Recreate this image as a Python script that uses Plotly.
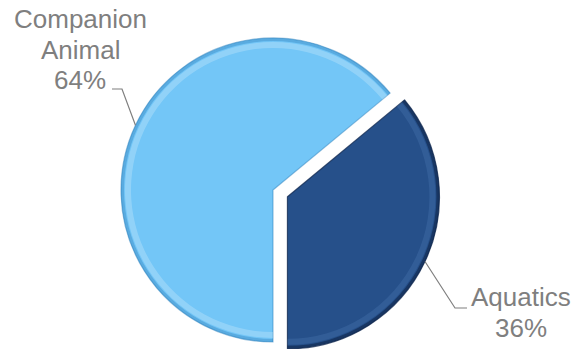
import math
import plotly.graph_objects as go

# Revenue split by segment
segments = ["Aquatics", "Companion Animal"]
shares = [36, 64]
colors = ["#26508A", "#73C6F7"]
edge_colors = ["rgba(14,38,78,0.75)", "rgba(45,130,190,0.5)"]
rim_colors = ["rgba(10,28,60,0.5)", "rgba(40,120,180,0.35)"]
glow_colors = ["rgba(120,170,230,0.15)", "rgba(255,255,255,0.22)"]
label_lines = [["Aquatics", "36%"], ["Companion", "Animal", "64%"]]

W, H = 575, 349
R = 152                 # pie radius in px
CENTER = (273, 190)     # pie centre in px
PULL = 0.105            # Aquatics slice pulled out by this fraction of R

total = sum(shares)
# Aquatics starts after a clockwise rotation so that it ends at 6 o'clock
rotation = 180 - 360 * shares[0] / total
CLEAR = "rgba(0,0,0,0)"


def mid_angle(i):
    start = rotation + 360 * sum(shares[:i]) / total
    return start + 180 * shares[i] / total


def domain_for(cx, cy, r):
    return dict(x=[(cx - r) / W, (cx + r) / W],
                y=[1 - (cy + r) / H, 1 - (cy - r) / H])


def to_paper(px, py):
    return px / W, 1 - py / H


def only(i, value, other=CLEAR):
    return [value if j == i else other for j in range(len(shares))]


# offset centre of the pulled slice
a0 = math.radians(mid_angle(0))
pulled_center = (CENTER[0] + PULL * R * math.sin(a0),
                 CENTER[1] - PULL * R * math.cos(a0))
centers = [pulled_center, CENTER]

fig = go.Figure()


def add_layer(i, center, radius, fill, line_color=CLEAR, line_width=0, hole=0):
    fig.add_trace(go.Pie(
        labels=segments, values=shares, sort=False, direction="clockwise",
        rotation=rotation, domain=domain_for(*center, radius), hole=hole,
        marker=dict(colors=only(i, fill),
                    line=dict(color=only(i, line_color), width=only(i, line_width, 0))),
        textinfo="none", hoverinfo="label+percent" if hole == 0 else "skip",
        showlegend=False,
    ))


for i in (1, 0):
    c = centers[i]
    # solid slice
    add_layer(i, c, R, colors[i], edge_colors[i], 1.2)
    # soft highlight band just inside the rim
    add_layer(i, c, R - 4, glow_colors[i], hole=1 - 6 / (R - 4))
    # darker rim
    add_layer(i, c, R, rim_colors[i], hole=1 - 3 / R)

# label layout: elbow point, horizontal end, text centre, first baseline (px)
label_layout = [
    dict(elbow=(455, 308), end=(467, 308), text_x=521, base_y=306),
    dict(elbow=(122, 89), end=(112, 89), text_x=80, base_y=28),
]
LINE_GAP = 30.5
FONT = dict(family="Liberation Sans, Arial, sans-serif", size=26, color="#7F7F7F")

shapes = []
annotations = []
for i, lay in enumerate(label_layout):
    a = math.radians(mid_angle(i))
    ex = centers[i][0] + R * math.sin(a)
    ey = centers[i][1] - R * math.cos(a)
    p0 = to_paper(ex, ey)
    p1 = to_paper(*lay["elbow"])
    p2 = to_paper(*lay["end"])
    shapes.append(dict(
        type="path", xref="paper", yref="paper",
        path=f"M {p0[0]},{p0[1]} L {p1[0]},{p1[1]} L {p2[0]},{p2[1]}",
        line=dict(color="#7F7F7F", width=1.2),
    ))
    for k, line in enumerate(label_lines[i]):
        tx, ty = to_paper(lay["text_x"], lay["base_y"] + k * LINE_GAP - 9)
        annotations.append(dict(
            text=line, x=tx, y=ty, xref="paper", yref="paper",
            xanchor="center", yanchor="middle", showarrow=False, font=FONT,
        ))

fig.update_layout(
    width=W, height=H,
    margin=dict(l=0, r=0, t=0, b=0),
    paper_bgcolor="white", plot_bgcolor="white",
    shapes=shapes, annotations=annotations,
)

fig.write_html("out.html")
